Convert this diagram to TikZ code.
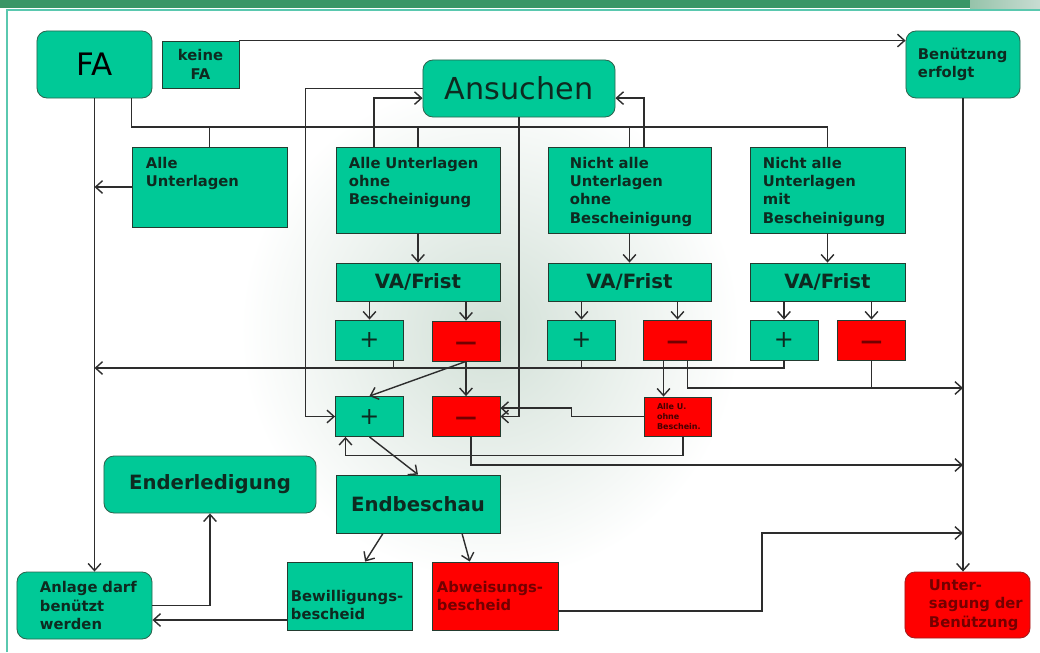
\documentclass[tikz,border=0pt]{standalone}
\usepackage{fontspec}
\setmainfont{DejaVu Sans}
\usetikzlibrary{arrows.meta}
\definecolor{boxgreen}{RGB}{0,201,151}
\definecolor{boxred}{RGB}{255,0,0}
\definecolor{edgedark}{RGB}{35,60,48}
\definecolor{edgeround}{RGB}{45,100,78}
\definecolor{edgered}{RGB}{160,30,30}
\definecolor{txtgreen}{RGB}{14,42,32}
\definecolor{txtred}{RGB}{115,0,0}
\definecolor{smallred}{RGB}{70,0,0}
\definecolor{linegray}{RGB}{45,45,45}
\definecolor{barGreen}{RGB}{58,150,102}
\definecolor{barMid}{RGB}{150,195,170}
\definecolor{barLight}{RGB}{200,220,210}
\definecolor{frameteal}{RGB}{90,200,175}
\definecolor{splash}{RGB}{210,224,215}
\tikzset{
  box/.style={draw=edgedark,fill=boxgreen,line width=0.6pt,text=txtgreen,inner sep=0pt,
    font=\bfseries\fontsize{10.5}{13}\selectfont},
  redbox/.style={box,fill=boxred,text=txtred},
  roundbox/.style={box,draw=edgeround,rounded corners=0.25cm},
  topbox/.style={box,align=left,inner ysep=0.1cm,text height=0.435cm},
  bigtext/.style={font=\bfseries\fontsize{14}{16}\selectfont},
  vabox/.style={box,bigtext,minimum height=0.95cm},
  plusbox/.style={box,minimum width=1.7cm,minimum height=1cm,font=\fontsize{17}{17}\selectfont},
  minusbox/.style={redbox,minimum width=1.7cm,minimum height=1cm,text height=12pt,text depth=0pt,
    font=\bfseries\fontsize{15.5}{15.5}\selectfont},
  flow/.style={draw=linegray,line width=1pt},
}
\begin{document}
\begin{tikzpicture}[x=0.025cm,y=-0.025cm,>={Straight Barb[length=5pt,width=9pt]}]
\useasboundingbox (0,0) rectangle (1040,652);
% background and frame
\fill[white] (0,0) rectangle (1040,652);
\shade[inner color=splash,outer color=white] (490,330) circle[radius=250];
\fill[barGreen] (0,0) rectangle (970,8);
\shade[left color=barMid,right color=barLight] (970,0) rectangle (1040,8);
\draw[frameteal,line width=0.8pt] (7,652) -- (7,10) -- (1040,10);

% top row
\node[roundbox,text=black,font=\fontsize{22}{24}\selectfont,minimum width=2.875cm,minimum height=1.675cm] (fa) at (94.5,64.5) {FA};
\node[box,align=center,font=\bfseries\fontsize{10.5}{13.5}\selectfont,minimum width=1.925cm,minimum height=1.175cm] (keine) at (200.5,64.5) {keine\\FA};
\node[roundbox,font=\fontsize{21.5}{24}\selectfont,minimum width=4.8cm,minimum height=1.425cm] (ansuchen) at (519,88.5) {Ansuchen};
\node[roundbox,align=left,text width=2.25cm,inner xsep=0.3cm,minimum height=1.675cm] (benutz) at (963,64.5) {Benützung\\erfolgt};

% documents
\node[topbox,text width=3.175cm,inner xsep=0.35cm,text depth=1.365cm] (alle) at (209.5,187) {Alle\\Unterlagen};
\node[topbox,text width=3.45cm,inner xsep=0.325cm,text depth=1.515cm] (alleOhne) at (418,190) {Alle Unterlagen\\ohne\\Bescheinigung};
\node[topbox,text width=2.975cm,inner xsep=0.55cm,text depth=1.515cm] (nichtOhne) at (629.5,190) {Nicht alle\\Unterlagen\\ohne\\Bescheinigung};
\node[topbox,text width=3.225cm,inner xsep=0.325cm,text depth=1.515cm] (nichtMit) at (827.5,190) {Nicht alle\\Unterlagen\\mit\\Bescheinigung};

% VA/Frist
\node[vabox,minimum width=4.1cm] (va1) at (418,282) {VA/Frist};
\node[vabox,minimum width=4.075cm] (va2) at (629.5,282) {VA/Frist};
\node[vabox,minimum width=3.875cm] (va3) at (827.5,282) {VA/Frist};

% results
\node[plusbox] (plus1) at (369.5,340) {+};
\node[minusbox] (minus1) at (466,341) {—};
\node[plusbox] (plus2) at (581.5,340) {+};
\node[minusbox] (minus2) at (677.5,340) {—};
\node[plusbox] (plus3) at (784,340) {+};
\node[minusbox] (minus3) at (871.5,340) {—};

\node[plusbox] (plusB) at (369.5,416.5) {+};
\node[minusbox] (minusB) at (466,416.5) {—};
\node[redbox,align=left,text width=1.025cm,inner xsep=0.325cm,minimum height=0.975cm,font=\bfseries\fontsize{5.7}{7}\selectfont,text=smallred] (alleU) at (677.5,416.5) {Alle U.\\ohne\\Beschein.};

% bottom
\node[roundbox,bigtext,minimum width=5.3cm,minimum height=1.425cm] (enderl) at (210,484.5) {Enderledigung};
\node[box,bigtext,minimum width=4.1cm,minimum height=1.45cm] (endbeschau) at (418,504) {Endbeschau};
\node[roundbox,align=left,text width=2.225cm,inner xsep=0.575cm,minimum height=1.675cm] (anlage) at (84.5,605.5) {Anlage~darf\\benützt\\werden};
\node[box,align=left,text width=2.925cm,inner xsep=0.1cm,minimum height=1.7cm,text height=0.73cm] (bewill) at (349.5,596) {Bewilligungs-\\bescheid};
\node[redbox,align=left,text width=2.9cm,inner xsep=0.125cm,minimum height=1.7cm] (abweis) at (495,596) {Abweisungs-\\bescheid};
\node[roundbox,fill=boxred,draw=edgered,text=txtred,align=left,text width=1.925cm,inner xsep=0.6cm,minimum height=1.65cm] (untersag) at (967.5,605) {Unter-\\sagung~der\\Benützung};

% helper points
\coordinate (bus) at (0,127);
\coordinate (okline) at (0,368);
\coordinate (rej1) at (963,388);
\coordinate (rej2) at (963,465);
\coordinate (rej3) at (963,533);
\coordinate (p1) at ([xshift=0.6cm]plus1.south);
\coordinate (bw) at ([yshift=-0.6cm]bewill.west);
\coordinate (ab) at ([yshift=-0.37cm]abweis.east);

% FA tree
\draw[flow] (fa.south -| alle.west) |- (bus -| nichtMit.north) -- (nichtMit.north);
\draw[flow] (bus -| alle.north) -- (alle.north);
\draw[flow] (bus -| alleOhne.north) -- (alleOhne.north);
\draw[flow] (bus -| nichtOhne.north) -- (nichtOhne.north);
\draw[flow,->] (fa.south) -- (fa.south |- anlage.north);
\draw[flow,->] (alle.west) -- (alle.west -| fa.south);
\draw[flow,->] (keine.north east) -- (keine.north east -| benutz.west);
\draw[flow,->] (benutz.south) -- (benutz.south |- untersag.north);

% back to Ansuchen
\draw[flow,->] ([xshift=-1.1cm]alleOhne.north) |- ([yshift=-0.24cm]ansuchen.west);
\draw[flow,->] ([xshift=0.36cm]nichtOhne.north) |- ([yshift=-0.24cm]ansuchen.east);
\draw[flow,->] (ansuchen.west) -- ++(-117,0) |- (plusB.west);
\draw[flow,->] (ansuchen.south) |- (minusB.east);

% VA/Frist
\draw[flow,->] (alleOhne.south) -- (va1.north);
\draw[flow,->] (nichtOhne.south) -- (va2.north);
\draw[flow,->] (nichtMit.south) -- (va3.north);
\draw[flow,->] (va1.south -| plus1) -- (plus1.north);
\draw[flow,->] (va1.south -| minus1) -- (minus1.north);
\draw[flow,->] (va2.south -| plus2) -- (plus2.north);
\draw[flow,->] (va2.south -| minus2) -- (minus2.north);
\draw[flow,->] (va3.south -| plus3) -- (plus3.north);
\draw[flow,->] (va3.south -| minus3) -- (minus3.north);

% plus results
\draw[flow,->] (plus3.south) |- (okline -| fa.south);
\draw[flow] (p1) -- (p1 |- okline);
\draw[flow] (plus2.south) -- (plus2.south |- okline);

% minus results
\draw[flow,->] (minus1.south) -- (plusB.north);
\draw[flow,->] (minus1.south) -- (minusB.north);
\draw[flow,->] ([xshift=-0.35cm]minus2.south) -- ([xshift=-0.35cm]alleU.north);
\draw[flow,->] ([xshift=0.25cm]minus2.south) |- (rej1);
\draw[flow] (minus3.south) -- (minus3.south |- rej1);
\draw[flow,->] (alleU.west) -- ++(-72,0) |- ([yshift=0.21cm]minusB.east);
\draw[flow,->] ([xshift=0.14cm]alleU.south) -- ++(0,19) -| ([xshift=-0.6cm]plusB.south);
\draw[flow,->] ([xshift=0.12cm]minusB.south) |- (rej2);

% final inspection
\draw[flow,->] (plusB.south) -- (endbeschau.north);
\draw[flow,->] ([xshift=-0.875cm]endbeschau.south) -- ([xshift=0.39cm]bewill.north);
\draw[flow,->] ([xshift=1.1cm]endbeschau.south) -- ([xshift=-0.63cm]abweis.north);
\draw[flow,->] (bw) -- (bw -| anlage.east);
\draw[flow,->] (anlage.east) -| (enderl.south);
\draw[flow,->] (ab) -| (762,533) -- (rej3);
\end{tikzpicture}
\end{document}
